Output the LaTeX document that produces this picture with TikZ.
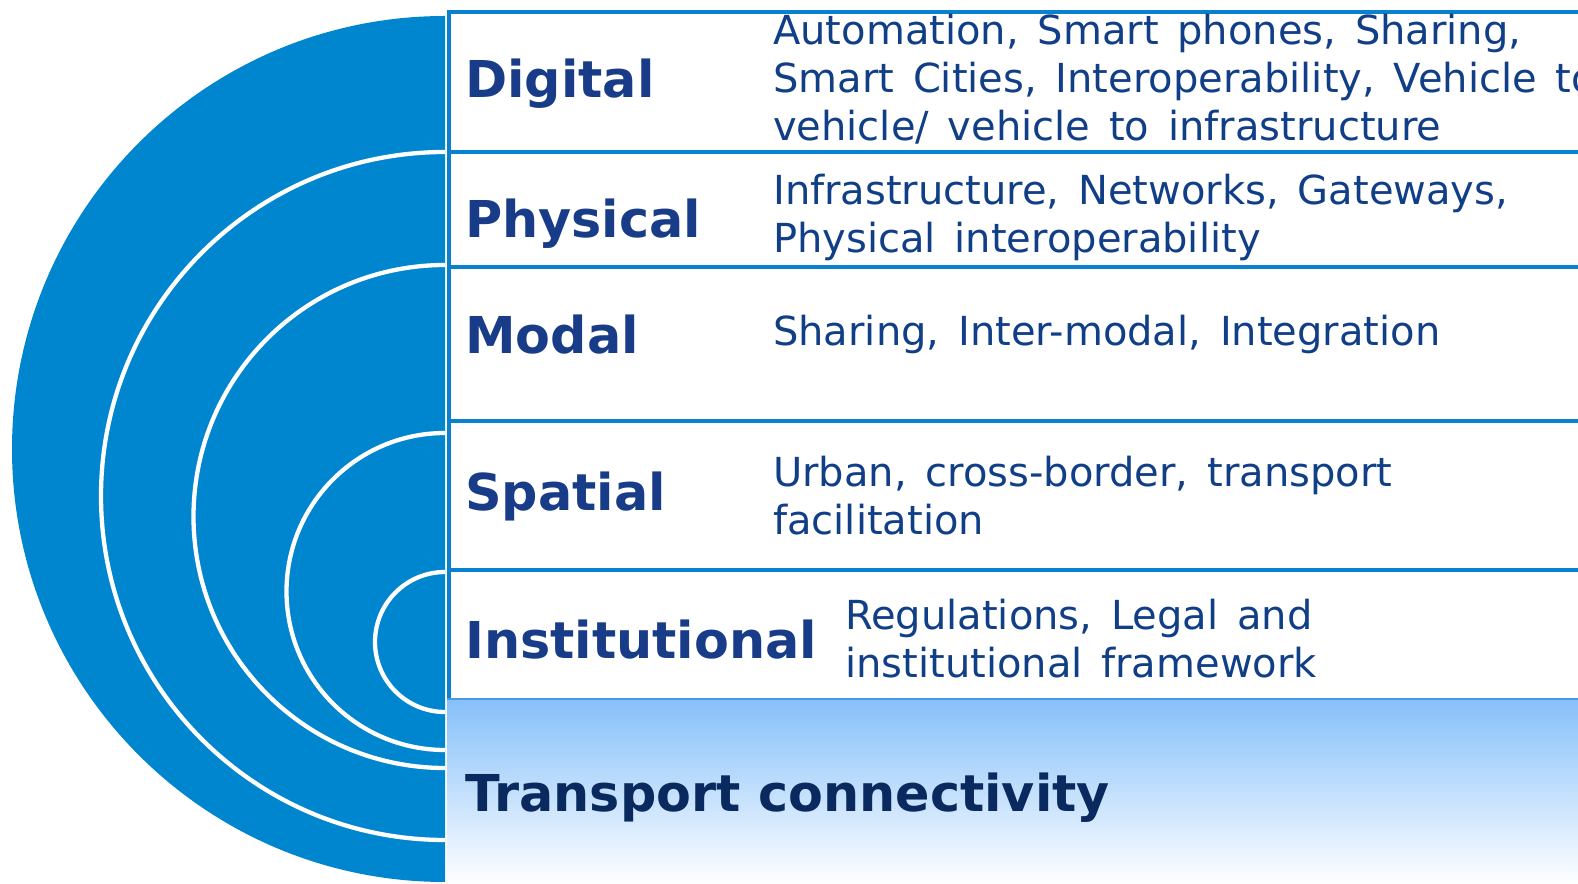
\documentclass[tikz,border=0pt]{standalone}
\usepackage{fontspec}
\setmainfont{DejaVu Sans}
\definecolor{ringblue}{RGB}{0,133,207}
\definecolor{boxblue}{RGB}{10,128,208}
\definecolor{labelnavy}{RGB}{24,60,135}
\definecolor{descnavy}{RGB}{16,62,135}
\definecolor{tcnavy}{RGB}{10,42,95}
\definecolor{tctop}{RGB}{134,192,250}
\definecolor{tcline}{RGB}{70,155,225}
\newcommand\widesp{\spaceskip=0.47em plus 0.1em\relax}
\begin{document}
\begin{tikzpicture}[x=1pt,y=1pt,
  lab/.style={anchor=base west, inner sep=0pt, text=labelnavy, font=\fontsize{50.8}{60}\selectfont\bfseries},
  desc/.style={anchor=base west, inner sep=0pt, text=descnavy, font=\fontsize{40}{48}\selectfont},
  ring/.style={draw=white, line width=4.3pt},
  rowline/.style={draw=boxblue, line width=4.5pt}]
\useasboundingbox (0,0) rectangle (1578,883);
% transport box
\fill[top color=tctop, bottom color=white] (447,-2) rectangle (1582,184);
\draw[tcline, line width=2pt] (447,184) -- (1582,184);
% white boxes outlines
\foreach \yy in {871,731,616,462,313} {\draw[rowline] (447,\yy) -- (1582,\yy);}
\draw[rowline] (449,185) -- (449,873.25);
% half disk
\fill[ringblue] (445,867) arc[start angle=90, end angle=270, radius=433pt] -- cycle;
% white rings
\draw[ring] (445,731) arc[start angle=90, end angle=270, radius=344pt];
\draw[ring] (445,618) arc[start angle=90, end angle=270, radius=251.5pt];
\draw[ring] (445,450) arc[start angle=90, end angle=270, radius=158.5pt];
\draw[ring] (445,311) arc[start angle=90, end angle=270, radius=70pt];
% labels
\node[lab] (digital) at (465,785) {Digital};
\node[lab] (physical) at (465,645) {Physical};
\node[lab] (modal) at (465,529) {Modal};
\node[lab] (spatial) at (465,372) {Spatial};
\node[lab] (institutional) at (465,224) {Institutional};
\node[lab, text=tcnavy] (transport) at (465,72) {Transport connectivity};
% descriptions
\node[desc] (digitaldesc) at (773,838) {\widesp\begin{tabular}[t]{@{}l@{}}Automation, Smart phones, Sharing,\\Smart Cities, Interoperability, Vehicle to\\vehicle/ vehicle to infrastructure\end{tabular}};
\node[desc] (physicaldesc) at (773,678) {\widesp\begin{tabular}[t]{@{}l@{}}Infrastructure, Networks, Gateways,\\Physical interoperability\end{tabular}};
\node[desc] (modaldesc) at (773,537) {\widesp Sharing, Inter-modal, Integration};
\node[desc] (spatialdesc) at (773,396) {\widesp\begin{tabular}[t]{@{}l@{}}Urban, cross-border, transport\\facilitation\end{tabular}};
\node[desc] (institutionaldesc) at (845,253) {\widesp\begin{tabular}[t]{@{}l@{}}Regulations, Legal and\\institutional framework\end{tabular}};
\end{tikzpicture}
\end{document}
